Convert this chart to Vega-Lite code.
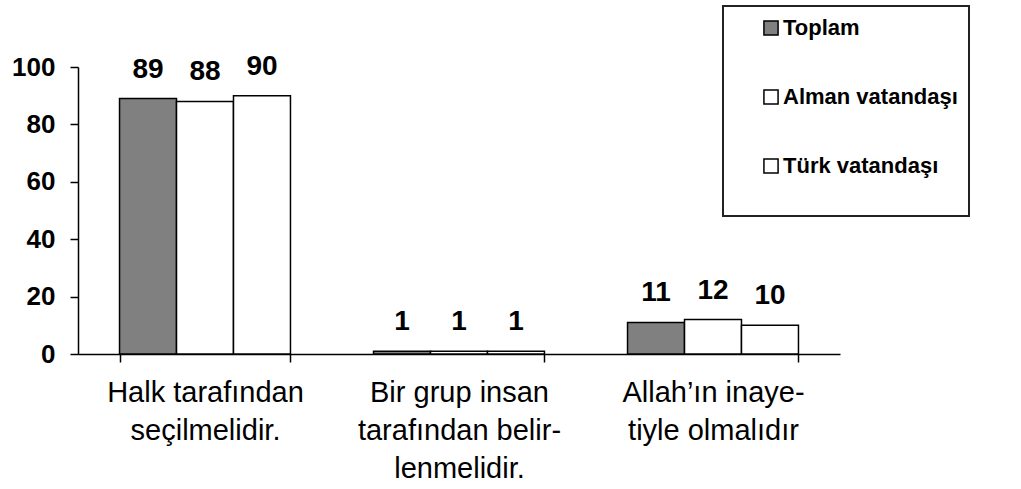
{
  "$schema": "https://vega.github.io/schema/vega-lite/v6.json",
  "width": 762,
  "height": 287,
  "autosize": "none",
  "padding": {"left": 78, "top": 67, "right": 181, "bottom": 135},
  "background": "white",
  "config": {"view": {"stroke": null}, "font": "Liberation Sans"},
  "data": {
    "values": [
      {"group": "Halk tarafından\nseçilmelidir.", "series": "Toplam", "value": 89},
      {"group": "Halk tarafından\nseçilmelidir.", "series": "Alman vatandaşı", "value": 88},
      {"group": "Halk tarafından\nseçilmelidir.", "series": "Türk vatandaşı", "value": 90},
      {"group": "Bir grup insan\ntarafından belir-\nlenmelidir.", "series": "Toplam", "value": 1},
      {"group": "Bir grup insan\ntarafından belir-\nlenmelidir.", "series": "Alman vatandaşı", "value": 1},
      {"group": "Bir grup insan\ntarafından belir-\nlenmelidir.", "series": "Türk vatandaşı", "value": 1},
      {"group": "Allah’ın inaye-\ntiyle olmalıdır", "series": "Toplam", "value": 11},
      {"group": "Allah’ın inaye-\ntiyle olmalıdır", "series": "Alman vatandaşı", "value": 12},
      {"group": "Allah’ın inaye-\ntiyle olmalıdır", "series": "Türk vatandaşı", "value": 10}
    ]
  },
  "encoding": {
    "x": {
      "field": "group",
      "type": "nominal",
      "sort": null,
      "scale": {"paddingInner": 0.327, "paddingOuter": 0.1635},
      "axis": {
        "title": null,
        "labelAngle": 0,
        "labelExpr": "split(datum.label, '\\n')",
        "labelFontSize": 29,
        "labelLineHeight": 38,
        "labelColor": "black",
        "labelPadding": 16,
        "labelLimit": 400,
        "tickBand": "extent",
        "tickSize": 8,
        "tickColor": "black",
        "tickWidth": 1.5,
        "domainColor": "black",
        "domainWidth": 1.5
      }
    },
    "xOffset": {
      "field": "series",
      "type": "nominal",
      "sort": ["Toplam", "Alman vatandaşı", "Türk vatandaşı"],
      "scale": {"paddingInner": 0, "paddingOuter": 0}
    },
    "y": {
      "field": "value",
      "type": "quantitative",
      "scale": {"domain": [0, 100], "nice": false},
      "axis": {
        "title": null,
        "values": [0, 20, 40, 60, 80, 100],
        "grid": false,
        "labelFontSize": 26,
        "labelFontWeight": "bold",
        "labelColor": "black",
        "labelPadding": 15,
        "tickSize": 8,
        "tickColor": "black",
        "tickWidth": 1.5,
        "domainColor": "black",
        "domainWidth": 1.5
      }
    }
  },
  "layer": [
    {
      "mark": {"type": "bar", "stroke": "black", "strokeWidth": 1.5},
      "encoding": {
        "fill": {
          "field": "series",
          "type": "nominal",
          "scale": {
            "domain": ["Toplam", "Alman vatandaşı", "Türk vatandaşı"],
            "range": ["#808080", "#ffffff", "#ffffff"]
          },
          "legend": {
            "orient": "none",
            "legendX": 645,
            "legendY": -61,
            "title": "\u00a0",
            "titleOrient": "bottom",
            "titleFontSize": 16,
            "titlePadding": 12,
            "titleLimit": 600,
            "padding": 11,
            "symbolType": "square",
            "symbolSize": 200,
            "symbolStrokeColor": "black",
            "symbolStrokeWidth": 1.5,
            "symbolOffset": 26,
            "labelOffset": 1,
            "labelExpr": "datum.label + '\u00a0\u00a0\u00a0\u00a0\u00a0\u00a0\u00a0\u00a0\u00a0'",
            "labelFontSize": 22,
            "labelFontWeight": "bold",
            "labelColor": "black",
            "labelLimit": 400,
            "rowPadding": 47,
            "strokeColor": "#222222",
            "fillColor": "white",
            "encode": {"legend": {"update": {"strokeWidth": {"value": 2}}}}
          }
        }
      }
    },
    {
      "mark": {"type": "text", "dy": -21, "baseline": "alphabetic", "fontSize": 28, "fontWeight": "bold", "color": "black"},
      "encoding": {"text": {"field": "value", "type": "quantitative"}}
    }
  ]
}
